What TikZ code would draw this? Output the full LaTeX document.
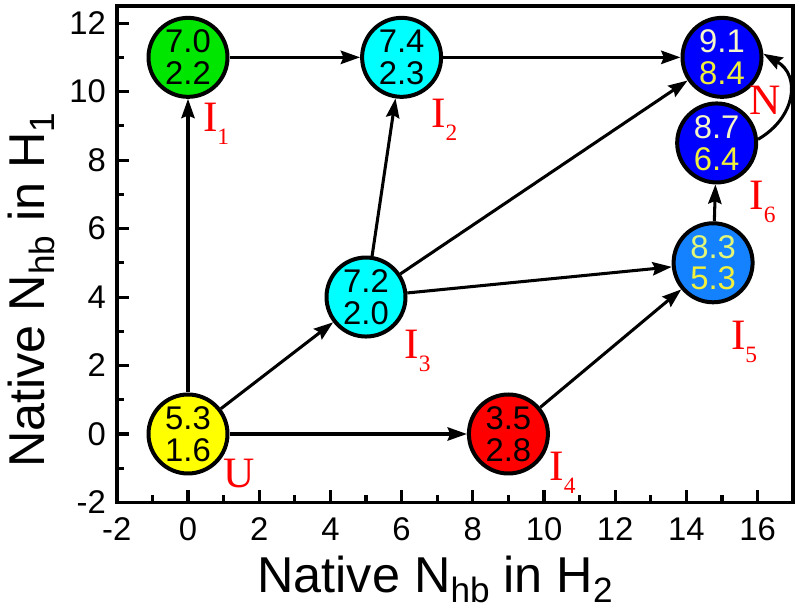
\documentclass[tikz,border=0pt]{standalone}
\usepackage{fontspec}
\setmainfont{Liberation Sans}
\newfontfamily\seriffont{Liberation Serif}
\usetikzlibrary{arrows.meta}
\definecolor{ngreen}{RGB}{0,230,0}
\definecolor{ncyan}{RGB}{0,255,255}
\definecolor{nyellow}{RGB}{255,255,0}
\definecolor{nred}{RGB}{255,0,0}
\definecolor{nmid}{RGB}{20,130,255}
\definecolor{nblue}{RGB}{0,0,255}
\definecolor{cream}{RGB}{245,245,200}
\definecolor{yel}{RGB}{240,240,60}
\definecolor{lyel}{RGB}{225,245,120}
\newcommand{\lsub}[1]{\raisebox{-0.39cm}{\fontsize{20}{20}\selectfont #1}}
\newcommand{\asub}[1]{\raisebox{-0.2em}{\fontsize{30}{30}\selectfont #1}}
\begin{document}
\begin{tikzpicture}[x=1.068cm,y=1.0272cm,
  st/.style={circle,draw=black,line width=0.12cm,minimum size=2.37cm,inner sep=0pt,align=center,font=\fontsize{28}{27}\selectfont},
  arr/.style={line width=2.6pt,-{Stealth[length=0.58cm,width=0.4cm,inset=0.08cm]}},
  lbl/.style={text=nred,inner sep=0pt,font=\seriffont\fontsize{37}{37}\selectfont},
  tlab/.style={inner sep=0pt,font=\fontsize{28}{28}\selectfont},
  axlab/.style={inner sep=0pt,font=\fontsize{43}{43}\selectfont},
  tick/.style={line width=2.6pt}]
\useasboundingbox (-5.281,-5.140) rectangle (17.191,12.675);
% frame and ticks
\draw[line width=3.2pt] (-2,-2) rectangle (17,12.5);
\foreach \x in {-2,0,...,16} {
  \draw[tick] (\x,-2) -- ++(0,0.36cm);
  \node[tlab,anchor=base] at (\x,-3.12) {\x};
}
\foreach \x in {-1,1,...,15} {
  \draw[tick] (\x,-2) -- ++(0,0.21cm);
}
\foreach \y in {-2,0,...,12} {
  \draw[tick] (-2,\y) -- ++(0.36cm,0);
  \node[tlab,anchor=base east] at (-2.30,\y-0.33) {\y};
}
\foreach \y in {-1,1,...,11} {
  \draw[tick] (-2,\y) -- ++(0.21cm,0);
}
\node[axlab,anchor=base] (xl) at (6.94,-4.62) {Native N\asub{hb} in H\asub{2}};
\node[axlab,anchor=base,rotate=90] (yl) at (-4.02,4.2) {Native N\asub{hb} in H\asub{1}};
% states
\node[st,fill=nyellow] (U) at (0,0) {5.3\\1.6};
\node[st,fill=ngreen] (I1) at (0,11) {7.0\\2.2};
\node[st,fill=ncyan] (I2) at (6,11) {7.4\\2.3};
\node[st,fill=ncyan] (I3) at (5,4) {7.2\\2.0};
\node[st,fill=nred] (I4) at (9,0) {3.5\\2.8};
\node[st,fill=nmid] (I5) at (14.75,5) {\textcolor{lyel}{8.3}\\\textcolor{yel}{5.3}};
\node[st,fill=nblue] (I6) at (14.85,8.5) {\textcolor{cream}{8.7}\\\textcolor{yel}{6.4}};
\node[st,fill=nblue] (N) at (15,11) {\textcolor{cream}{9.1}\\\textcolor{yel}{8.4}};
% labels
\node[lbl] (lU) at (1.43,-1.14) {U};
\node[lbl] (l1) at (0.79,9.07) {I\lsub{1}};
\node[lbl] (l2) at (7.2,9.17) {I\lsub{2}};
\node[lbl] (l3) at (6.45,2.44) {I\lsub{3}};
\node[lbl] (l4) at (10.52,-1.12) {I\lsub{4}};
\node[lbl] (l5) at (15.62,2.70) {I\lsub{5}};
\node[lbl] (l6) at (16.14,6.79) {I\lsub{6}};
\node[lbl] (lN) at (16.21,9.75) {N};
% connectors
\draw[arr] (U) -- (I1);
\draw[arr] (U) -- (I3);
\draw[arr] (U) -- (I4);
\draw[arr] (I1) -- (I2);
\draw[arr] (I2) -- (N);
\draw[arr] (I3) -- (I2);
\draw[arr] (I3) -- (N);
\draw[arr] (I3) -- (I5);
\draw[arr] (I4) -- (I5);
\draw[arr] (I5) -- (I6);
\draw[arr] (I6.5) to[out=30,in=-30,looseness=1.3] (N.5);
\end{tikzpicture}
\end{document}
